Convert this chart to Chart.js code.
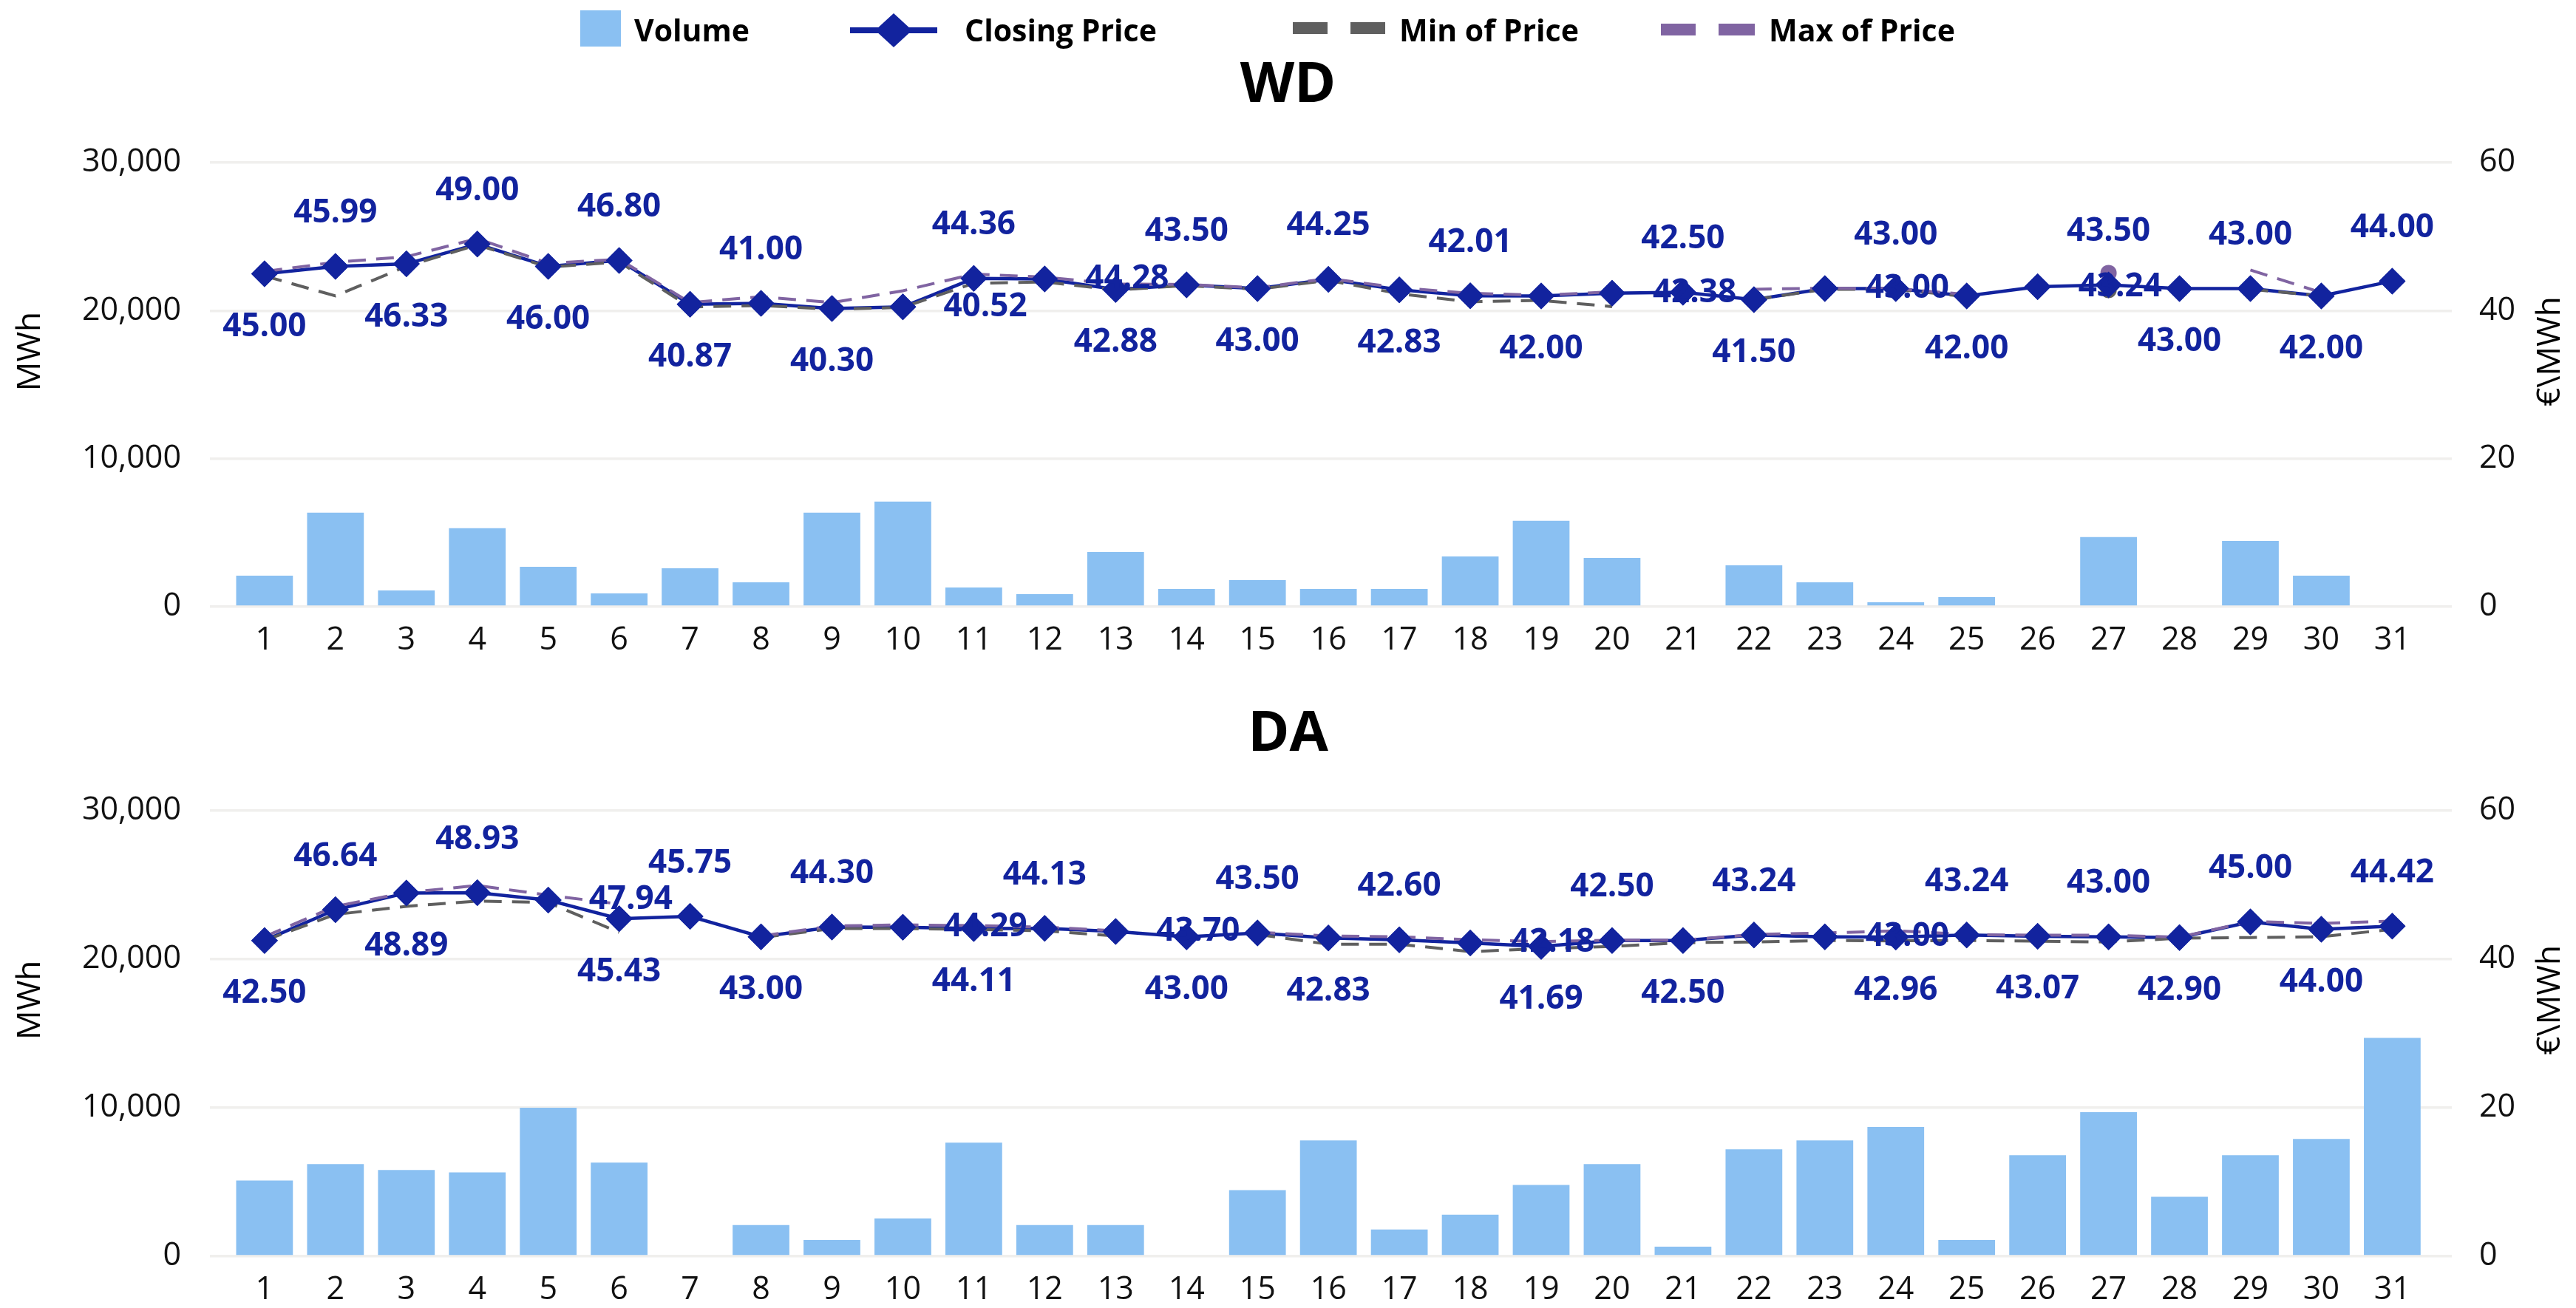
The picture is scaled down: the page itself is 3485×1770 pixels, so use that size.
<!DOCTYPE html>
<html>
<head>
<meta charset="utf-8">
<script src="https://cdn.jsdelivr.net/npm/chart.js@4.4.0/dist/chart.umd.min.js"></script>
<style>
  body { margin: 0; background: #fff; width: 3485px; height: 1770px; position: relative; overflow: hidden; font-family: "Open Sans", sans-serif; }
  #legend { position: absolute; left: 0; top: 0; width: 3485px; height: 80px; z-index: 2; }
  .lg-icon { position: absolute; }
  .lg-text { position: absolute; top: 0; height: 80px; line-height: 80px; font-size: 41px; font-weight: bold; color: #000; white-space: nowrap; }
  #wdBox { position: absolute; left: 0; top: 0; width: 3485px; height: 900px; }
  #daBox { position: absolute; left: 0; top: 900px; width: 3485px; height: 870px; }
</style>
</head>
<body>
<div id="wdBox"><canvas id="wdChart"></canvas></div>
<div id="daBox"><canvas id="daChart"></canvas></div>
<div id="legend">
  <canvas class="lg-icon" id="lgVolume" width="55" height="49" style="left:785px;top:14px"></canvas>
  <span class="lg-text" style="left:858px">Volume</span>
  <canvas class="lg-icon" id="lgClose" width="118" height="46" style="left:1150px;top:18px"></canvas>
  <span class="lg-text" style="left:1305px">Closing Price</span>
  <canvas class="lg-icon" id="lgMin" width="125" height="16" style="left:1749px;top:30px"></canvas>
  <span class="lg-text" style="left:1893px">Min of Price</span>
  <canvas class="lg-icon" id="lgMax" width="127" height="16" style="left:2247px;top:32px"></canvas>
  <span class="lg-text" style="left:2393px">Max of Price</span>
</div>
<script>
// days of the month
const days = [1, 2, 3, 4, 5, 6, 7, 8, 9, 10, 11, 12, 13, 14, 15, 16, 17, 18, 19, 20, 21, 22, 23, 24, 25, 26, 27, 28, 29, 30, 31];
const volumeTicks = [0, 10000, 20000, 30000];
const priceTicks = [0, 20, 40, 60];

// WD
const wdVolume = [2100, 6350, 1100, 5300, 2700, 900, 2600, 1650, 6350, 7100, 1300, 850, 3700, 1200, 1800, 1200, 1200, 3400, 5800, 3300, 0, 2800, 1650, 300, 650, 0, 4700, 0, 4450, 2100, 0];
const wdClose = [45.00, 45.99, 46.33, 49.00, 46.00, 46.80, 40.87, 41.00, 40.30, 40.52, 44.36, 44.28, 42.88, 43.50, 43.00, 44.25, 42.83, 42.01, 42.00, 42.38, 42.50, 41.50, 43.00, 43.00, 42.00, 43.24, 43.50, 43.00, 43.00, 42.00, 44.00];
const wdMin = [44.7, 42.0, 46.0, 48.9, 45.9, 46.6, 40.5, 40.7, 40.2, 40.45, 43.7, 43.9, 42.8, 43.4, 42.9, 44.1, 42.3, 41.2, 41.4, 40.55, null, 41.5, 42.9, 42.9, 41.9, null, 42.8, null, 42.9, 42.0, null];
const wdMax = [45.3, 46.55, 47.3, 49.75, 46.4, 46.95, 41.1, 41.9, 41.1, 42.7, 44.95, 44.55, 43.6, 43.55, 43.1, 44.35, 43.1, 42.35, 42.1, 42.55, null, 42.9, 43.05, 43.0, 42.2, null, 45.1, null, 45.5, 42.45, null];
// where each closing-price label sits: a = above, b = below, r = right
const wdLabelSide = ['b', 'a', 'b', 'a', 'b', 'a', 'b', 'a', 'b', 'r', 'a', 'r', 'b', 'a', 'b', 'a', 'b', 'a', 'b', 'r', 'a', 'b', 'r', 'a', 'b', 'r', 'a', 'b', 'a', 'b', 'a'];

// DA
const daVolume = [5100, 6200, 5800, 5650, 10000, 6300, 0, 2100, 1100, 2550, 7650, 2100, 2100, 0, 4450, 7800, 1800, 2800, 4800, 6200, 650, 7200, 7800, 8700, 1100, 6800, 9700, 4000, 6800, 7900, 14700];
const daClose = [42.50, 46.64, 48.89, 48.93, 47.94, 45.43, 45.75, 43.00, 44.30, 44.29, 44.11, 44.13, 43.70, 43.00, 43.50, 42.83, 42.60, 42.18, 41.69, 42.50, 42.50, 43.24, 43.00, 42.96, 43.24, 43.07, 43.00, 42.90, 45.00, 44.00, 44.42];
const daMin = [42.5, 46.0, 47.1, 47.8, 47.6, 43.6, null, 42.9, 44.1, 44.1, 44.0, 43.8, 43.1, null, 43.3, 42.0, 42.0, 41.0, 41.4, 41.7, 42.2, 42.3, 42.5, 42.45, 42.5, 42.4, 42.3, 42.8, 42.9, 43.0, 44.0];
const daMax = [43.0, 47.1, 48.95, 49.9, 48.6, 47.4, null, 43.1, 44.45, 44.6, 44.5, 44.3, 43.8, null, 43.6, 43.1, 43.0, 42.6, 42.35, 42.55, 42.55, 43.3, 43.5, 43.8, 43.3, 43.2, 43.2, 42.95, 45.05, 44.8, 45.1];
const daLabelSide = ['b', 'a', 'b', 'a', 'r', 'b', 'a', 'b', 'a', 'r', 'b', 'a', 'r', 'b', 'a', 'b', 'a', 'r', 'b', 'a', 'b', 'a', 'r', 'b', 'a', 'b', 'a', 'b', 'a', 'b', 'a'];

const navy = '#12239E';
const barBlue = '#8AC0F2';
const minGrey = '#5F5F5F';
const maxPurple = '#8064A2';
const gridGrey = '#F0EFED';
const FONT = '"Open Sans", sans-serif';

// legend icons
function drawLegendIcons() {
  let c = document.getElementById('lgVolume').getContext('2d');
  c.fillStyle = barBlue; c.fillRect(0, 0, 55, 49);
  c = document.getElementById('lgClose').getContext('2d');
  c.fillStyle = navy; c.fillRect(0, 19, 118, 8);
  c.beginPath(); c.moveTo(59, 0); c.lineTo(84, 23); c.lineTo(59, 46); c.lineTo(34, 23); c.closePath(); c.fill();
  c = document.getElementById('lgMin').getContext('2d');
  c.fillStyle = minGrey; c.fillRect(0, 0, 47, 16); c.fillRect(78, 0, 47, 16);
  c = document.getElementById('lgMax').getContext('2d');
  c.fillStyle = maxPurple; c.fillRect(0, 0, 47, 16); c.fillRect(78, 0, 49, 16);
}
drawLegendIcons();

// dot only where a min/max point has no neighbour to join
function loneRadius(ctx) {
  const d = ctx.dataset.data, i = ctx.dataIndex;
  if (d[i] == null) return 0;
  const prev = i > 0 ? d[i - 1] : null;
  const next = i < d.length - 1 ? d[i + 1] : null;
  return (prev == null && next == null) ? 11 : 0;
}

const priceLabels = {
  id: 'priceLabels',
  afterDatasetsDraw(chart, args, opts) {
    const ctx = chart.ctx;
    const meta = chart.getDatasetMeta(1);
    const values = chart.data.datasets[1].data;
    // markers on top of the dashed lines
    meta.data.forEach(p => p.draw(ctx));
    ctx.save();
    ctx.font = 'bold 44px ' + FONT;
    ctx.fillStyle = navy;
    ctx.textBaseline = 'middle';
    meta.data.forEach((p, i) => {
      const txt = values[i].toFixed(2);
      const side = opts.sides[i];
      if (side === 'r') {
        ctx.textAlign = 'left';
        ctx.fillText(txt, p.x + 55, p.y);
      } else {
        ctx.textAlign = 'center';
        ctx.fillText(txt, p.x, p.y + (side === 'a' ? -72 : 72));
      }
    });
    ctx.restore();
  }
};

const axisTitles = {
  id: 'axisTitles',
  afterDraw(chart) {
    const {ctx, chartArea} = chart;
    const mid = (chartArea.top + chartArea.bottom) / 2 - 45;
    ctx.save();
    ctx.font = '44px ' + FONT;
    ctx.fillStyle = '#000';
    ctx.textAlign = 'center';
    ctx.textBaseline = 'middle';
    [[41, 'MWh'], [chart.width - 35, '€\\MWh']].forEach(([x, t]) => {
      ctx.save();
      ctx.translate(x, mid);
      ctx.rotate(-Math.PI / 2);
      ctx.fillText(t, 0, 0);
      ctx.restore();
    });
    ctx.restore();
  }
};

function makeChart(id, title, volume, close, minP, maxP, sides, layout) {
  return new Chart(document.getElementById(id), {
    type: 'bar',
    data: {
      labels: days,
      datasets: [
        {
          type: 'bar', label: 'Volume', data: volume, yAxisID: 'yVol',
          backgroundColor: barBlue, categoryPercentage: 0.8, barPercentage: 1.0, order: 4
        },
        {
          type: 'line', label: 'Closing Price', data: close, yAxisID: 'yPrice',
          borderColor: navy, backgroundColor: navy, borderWidth: 4.5,
          pointStyle: 'rectRot', pointRadius: 18, pointBorderWidth: 0, pointBackgroundColor: navy,
          order: 3
        },
        {
          type: 'line', label: 'Min of Price', data: minP, yAxisID: 'yPrice',
          borderColor: minGrey, backgroundColor: minGrey, borderWidth: 4, borderDash: [24, 14],
          pointRadius: loneRadius, pointBorderWidth: 0, order: 2
        },
        {
          type: 'line', label: 'Max of Price', data: maxP, yAxisID: 'yPrice',
          borderColor: maxPurple, backgroundColor: maxPurple, borderWidth: 4, borderDash: [24, 14],
          pointRadius: loneRadius, pointBorderWidth: 0, order: 1
        }
      ]
    },
    options: {
      responsive: true,
      maintainAspectRatio: false,
      animation: false,
      events: [],
      layout: { padding: 0 },
      plugins: {
        legend: { display: false },
        tooltip: { enabled: false },
        title: {
          display: true, text: title, color: '#000',
          font: { family: FONT, size: 76, weight: 'bold' },
          padding: { top: layout.titleTop, bottom: layout.titleBottom }
        },
        priceLabels: { sides: sides }
      },
      scales: {
        x: {
          type: 'linear', min: 0.23, max: 31.84, offset: false,
          afterBuildTicks: axis => { axis.ticks = days.map(v => ({ value: v })); },
          afterFit: s => { s.height = layout.xHeight; },
          grid: { display: false, offset: false },
          border: { display: false },
          ticks: { color: '#111', font: { family: FONT, size: 43 }, padding: 12, maxRotation: 0, autoSkip: false, callback: v => String(v) }
        },
        yVol: {
          position: 'left', min: 0, max: 30000,
          afterBuildTicks: axis => { axis.ticks = volumeTicks.map(v => ({ value: v })); },
          afterFit: s => { s.width = 284; },
          grid: { color: gridGrey, lineWidth: 3.5, drawTicks: false },
          border: { display: false },
          ticks: { color: '#111', font: { family: FONT, size: 43 }, padding: 39 }
        },
        yPrice: {
          position: 'right', min: 0, max: 60,
          afterBuildTicks: axis => { axis.ticks = priceTicks.map(v => ({ value: v })); },
          afterFit: s => { s.width = 168; },
          grid: { drawOnChartArea: false, drawTicks: false },
          border: { display: false },
          ticks: { color: '#111', font: { family: FONT, size: 43 }, padding: 37, align: 'center', crossAlign: 'near' }
        }
      }
    },
    plugins: [priceLabels, axisTitles]
  });
}

makeChart('wdChart', 'WD', wdVolume, wdClose, wdMin, wdMax, wdLabelSide,
  { titleTop: 71, titleBottom: 58, xHeight: 79 });
makeChart('daChart', 'DA', daVolume, daClose, daMin, daMax, daLabelSide,
  { titleTop: 49, titleBottom: 56.5, xHeight: 70 });
</script>
</body>
</html>
